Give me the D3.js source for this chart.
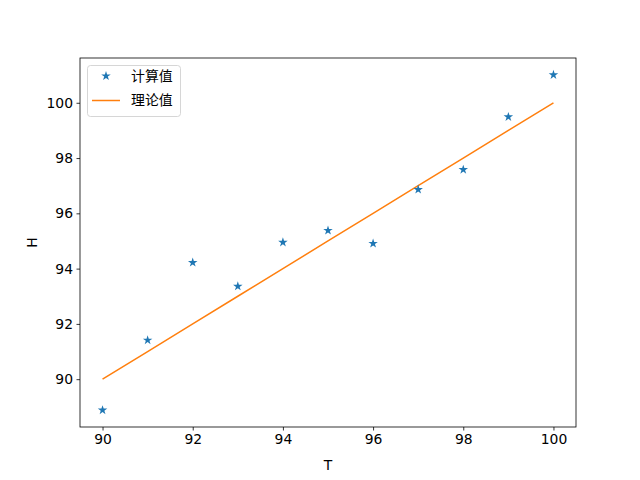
<!DOCTYPE html>
<html>
<head>
<script src="https://cdnjs.cloudflare.com/ajax/libs/d3/7.8.5/d3.min.js"></script>
<style>
body { margin: 0; background: #fff; }
svg { font-family: "DejaVu Sans", "Noto Sans CJK SC", sans-serif; }
</style>
</head>
<body>
<svg width="640" height="480"></svg>
<script>
// data
var tValues = [90, 91, 92, 93, 94, 95, 96, 97, 98, 99, 100];
var hCalc = [88.88, 91.41, 94.22, 93.36, 94.95, 95.38, 94.91, 96.86, 97.58, 99.49, 101.01];
var hTheory = [90, 91, 92, 93, 94, 95, 96, 97, 98, 99, 100];
var xTicks = [90, 92, 94, 96, 98, 100];
var yTicks = [90, 92, 94, 96, 98, 100];
var seriesNames = ["计算值", "理论值"];

var svg = d3.select("svg");
var mLeft = 80, mRight = 576, mTop = 58, mBottom = 427;

var x = d3.scaleLinear().domain([89.5, 100.5]).range([mLeft, mRight]);
var y = d3.scaleLinear().domain([88.27, 101.62]).range([mBottom, mTop]);

// axes
var xAxis = svg.append("g").attr("transform", "translate(0," + mBottom + ")")
    .call(d3.axisBottom(x).tickValues(xTicks).tickSize(3.5).tickPadding(3.5).tickFormat(d3.format("d")));
var yAxis = svg.append("g").attr("transform", "translate(" + mLeft + ",0)")
    .call(d3.axisLeft(y).tickValues(yTicks).tickSize(3.5).tickPadding(3.5).tickFormat(d3.format("d")));
[xAxis, yAxis].forEach(function (a) {
    a.select(".domain").remove();
    a.selectAll("text").attr("font-size", "13.9px").attr("fill", "#000").attr("font-family", "DejaVu Sans");
    a.selectAll("line").attr("stroke", "#000").attr("stroke-width", 0.8);
});

svg.append("rect").attr("x", mLeft).attr("y", mTop).attr("width", mRight - mLeft).attr("height", mBottom - mTop)
    .attr("fill", "none").attr("stroke", "#000").attr("stroke-width", 0.8);

// theory line
var line = d3.line().x(function (d, i) { return x(tValues[i]); }).y(function (d) { return y(d); });
svg.append("path").datum(hTheory).attr("d", line)
    .attr("fill", "none").attr("stroke", "#ff7f0e").attr("stroke-width", 1.5);

// calculated points
var star = d3.symbol().type(d3.symbolStar).size(28);
svg.selectAll(".pt").data(hCalc).enter().append("path")
    .attr("class", "pt")
    .attr("d", star)
    .attr("transform", function (d, i) { return "translate(" + x(tValues[i]) + "," + y(d) + ")"; })
    .attr("fill", "#1f77b4");

// axis labels
svg.append("text").attr("x", (mLeft + mRight) / 2).attr("y", 470).attr("text-anchor", "middle")
    .attr("font-size", "13.9px").text("T");
svg.append("text").attr("transform", "translate(37," + (mTop + mBottom) / 2 + ") rotate(-90)")
    .attr("text-anchor", "middle").attr("font-size", "13.9px").text("H");

// legend
var lg = svg.append("g");
lg.append("rect").attr("x", 87.5).attr("y", 65.5).attr("width", 93).attr("height", 51).attr("rx", 3)
    .attr("fill", "#fff").attr("fill-opacity", 0.8).attr("stroke", "#ccc").attr("stroke-width", 0.8);
lg.append("path").attr("d", star).attr("transform", "translate(106,76)").attr("fill", "#1f77b4");
lg.append("line").attr("x1", 92).attr("x2", 120).attr("y1", 100.5).attr("y2", 100.5)
    .attr("stroke", "#ff7f0e").attr("stroke-width", 1.5);
lg.selectAll(".lt").data(seriesNames).enter().append("text")
    .attr("x", 131).attr("y", function (d, i) { return 81 + i * 24; })
    .attr("font-size", "13.9px").attr("font-family", "Noto Sans CJK SC")
    .text(function (d) { return d; });
</script>
</body>
</html>
